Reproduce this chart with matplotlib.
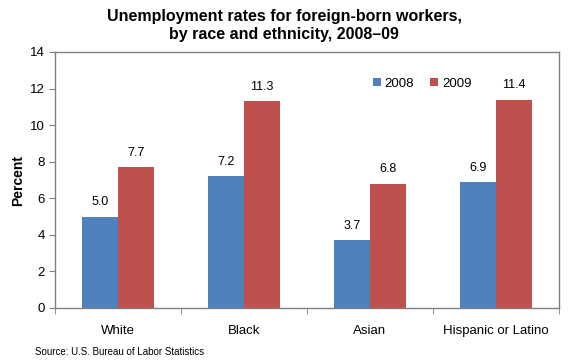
import numpy as np
import matplotlib.pyplot as plt

plt.rcParams['font.family'] = ['Liberation Sans', 'DejaVu Sans']

categories = ['White', 'Black', 'Asian', 'Hispanic or Latino']
rates_2008 = [5.0, 7.2, 3.7, 6.9]
rates_2009 = [7.7, 11.3, 6.8, 11.4]

blue = '#4f81bd'
red = '#c0504d'
grey = '#808080'

fig = plt.figure(figsize=(5.8, 3.6), dpi=100)
ax = fig.add_axes([55/580, 1 - 308/360, (559-55)/580, (308-52)/360])

x = np.arange(len(categories))
w = 0.286
b1 = ax.bar(x - w/2, rates_2008, w, color=blue, label='2008')
b2 = ax.bar(x + w/2, rates_2009, w, color=red, label='2009')

for bars, vals in [(b1, rates_2008), (b2, rates_2009)]:
    for b, v in zip(bars, vals):
        ax.text(b.get_x() + b.get_width()/2, v + 0.45, f'{v:.1f}',
                ha='center', va='bottom', fontsize=9)

ax.set_xlim(-0.5, len(categories) - 0.5)
ax.set_ylim(0, 14)
ax.set_yticks(range(0, 15, 2))
ax.set_xticks(x)
ax.set_xticklabels(categories, fontsize=9.5)
ax.tick_params(axis='x', length=0, pad=12)
ax.set_xticks(np.arange(-0.5, len(categories)), minor=True)
ax.tick_params(axis='x', which='minor', length=4, color=grey, direction='out')
ax.tick_params(axis='y', length=4, color=grey, labelsize=9.5, direction='out')

for s in ax.spines.values():
    s.set_color(grey)
    s.set_linewidth(1)

fig.text(18/580, 1 - 180/360, 'Percent', rotation=90, ha='center', va='center',
         fontsize=10, fontweight='bold')

ax.legend(loc='upper left', bbox_to_anchor=(0.62, 0.92), ncol=2, frameon=False,
          fontsize=9.5, handlelength=0.6, handleheight=0.6, handletextpad=0.3,
          columnspacing=1.2, borderaxespad=0)

fig.text(0.49, 1 - 26/360, 'Unemployment rates for foreign-born workers,\nby race and ethnicity, 2008\u201309',
         ha='center', va='center', fontsize=11.5, fontweight='bold', linespacing=1.25)
fig.text(35/580, 1 - 352/360, 'Source: U.S. Bureau of Labor Statistics',
         ha='left', va='center', fontsize=7)

fig.savefig('out.png', dpi=100)
